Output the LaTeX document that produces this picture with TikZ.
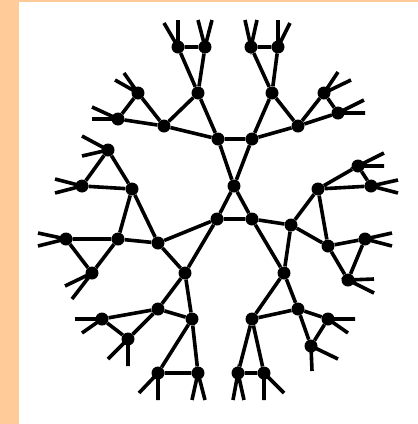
\documentclass[tikz,border=0pt]{standalone}
\definecolor{peach}{RGB}{255,204,153}
\begin{document}
\begin{tikzpicture}[x=1pt,y=-1pt,
  dot/.style={circle,fill=black,inner sep=0pt,minimum size=13pt},
  edge/.style={line width=3.6pt,black}]
\useasboundingbox (0,0) rectangle (418,424);
\fill[peach] (0,0) rectangle (418,424);
\fill[white] (19,1.5) rectangle (418,424);
% nodes
\foreach \n/\x/\y in {
  a/234/186, b/217/219, c/252/219,
  a1/218/139, a2/252/139, b1/158/243, b2/185/273, c1/291/225, c2/284/273,
  a11/164/126, a12/198/93, a21/272/93, a22/298/126,
  b11/132/189, b12/118/239, b21/158/309, b22/192/319,
  c11/318/189, c12/328/246, c21/252/319, c22/298/309,
  a111/118/119, a112/138/93, a121/178/47, a122/205/47,
  a211/251/47, a212/278/47, a221/324/93, a222/338/113,
  b111/108/150, b112/82/186, b121/66/239, b122/92/273,
  b211/102/319, b212/128/339, b221/158/373, b222/198/373,
  c111/358/166, c112/371/186, c121/365/239, c122/348/280,
  c211/238/373, c212/264/373, c221/328/319, c222/311/346}
  \node[dot] (\n) at (\x,\y) {};
% triangles
\foreach \p/\q/\r in {
  a/b/c, a/a1/a2, b/b1/b2, c/c1/c2,
  a1/a11/a12, a2/a21/a22, b1/b11/b12, b2/b21/b22, c1/c11/c12, c2/c21/c22,
  a11/a111/a112, a12/a121/a122, a21/a211/a212, a22/a221/a222,
  b11/b111/b112, b12/b121/b122, b21/b211/b212, b22/b221/b222,
  c11/c111/c112, c12/c121/c122, c21/c211/c212, c22/c221/c222}
  \draw[edge] (\p) -- (\q) -- (\r) -- (\p);
% leaf stubs
\foreach \n/\xa/\ya/\xb/\yb in {
  a111/92/107/92/119, a112/124/73/115/80,
  a121/164/23/178/20, a122/198/20/212/20,
  a211/245/20/257/20, a212/278/20/290/23,
  a221/338/72/351/80, a222/364/100/365/113,
  b111/82/136/82/156, b112/55/179/55/193,
  b121/38/233/38/246, b122/65/286/72/299,
  b211/75/319/82/333, b212/108/359/128/366,
  b221/139/393/158/400, b222/192/400/205/400,
  c211/233/400/244/400, c212/264/400/284/393,
  c221/355/319/348/333, c222/312/371/338/359,
  c111/384/153/384/166, c112/398/180/398/193,
  c121/392/233/392/246, c122/374/279/374/293}
{
  \coordinate (\n-s1) at (\xa,\ya);
  \coordinate (\n-s2) at (\xb,\yb);
  \draw[edge] (\n-s1) -- (\n.center) -- (\n-s2);
}
\end{tikzpicture}
\end{document}
